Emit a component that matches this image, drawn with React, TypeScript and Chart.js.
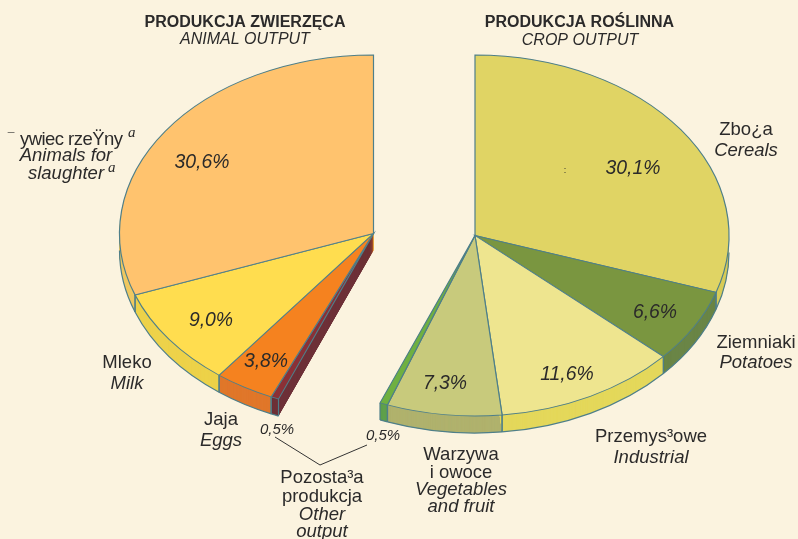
import React, { useEffect, useRef } from "react";
import { Chart, registerables } from "chart.js";

Chart.register(...registerables);

// Slices in clockwise order from 12 o'clock: crop output first, then animal output.
const sliceNames = [
  "Zboża", "Ziemniaki", "Przemysłowe", "Warzywa i owoce", "Pozostała (roślinna)",
  "Pozostała (zwierzęca)", "Jaja", "Mleko", "Żywiec rzeźny",
];
const sliceValues = [30.1, 6.6, 11.6, 7.3, 0.5, 0.5, 3.8, 9.0, 30.6];
const topColors = [
  "#E0D464", "#7A9640", "#EEE58F", "#C8CA7C", "#6FB040",
  "#8B3036", "#F5821F", "#FFDD4F", "#FFC36E",
];
const wallColors = [
  "#D8CC58", "#6A8546", "#E4D85C", "#B0B26E", "#5FA04C",
  "#6E3138", "#E0782C", "#EDD24A", "#EFC862",
];
const cropSliceCount = 5;
// Paint order of the side walls: from the sides toward the lowest point of each half.
const wallPaintOrder = [0, 1, 4, 3, 2, 8, 7, 6, 5];

const BG = "#FBF3DF";
const EDGE = "#4E7F8A";
const INK = "#2B2A2A";
const FONT = '"Liberation Sans", Arial, sans-serif';

const PIES = {
  crop: { x: 475, y: 235.5, ry: 180.5 },
  animal: { x: 373.5, y: 233.5, ry: 178.5 },
};
const RADIUS = 254;
const DEPTH = 17;
const SWEEP_STEP = 0.2;

// Where each slice's percentage sits (x centre, baseline), in slice order.
const percentAnchors = [
  [633, 174], [655, 318], [567, 380], [445, 389], null,
  null, [266, 367], [211, 326], [202, 168],
];

type Txt = [string, number, number, string?, number?, string?, string?];
// text, x, baseline, style, size, align, letter spacing
const labels: Txt[] = [
  ["PRODUKCJA ZWIERZĘCA", 245, 27, "bold", 16],
  ["ANIMAL OUTPUT", 245, 44, "italic", 16],
  ["PRODUKCJA ROŚLINNA", 579.5, 27, "bold", 16],
  ["CROP OUTPUT", 580, 45, "italic", 16],
  ["¯", 11, 141.5, "", 12],
  ["ywiec rzeŸny", 20, 145, "", 18.5, "left", "-0.55px"],
  ["Animals for", 66, 161, "italic", 18.5],
  ["slaughter", 66, 179, "italic", 18.5],
  ["Zbo¿a", 746, 135, "", 18.5],
  ["Cereals", 746, 156, "italic", 18.5],
  ["Ziemniaki", 756, 348, "", 18.5],
  ["Potatoes", 756, 368, "italic", 18.5],
  ["Przemys³owe", 651, 442, "", 18.5],
  ["Industrial", 651, 463, "italic", 18.5],
  ["Warzywa", 461, 460, "", 18.5],
  ["i owoce", 461, 478, "", 18.5],
  ["Vegetables", 461, 495, "italic", 18.5],
  ["and fruit", 461, 512, "italic", 18.5],
  ["Pozosta³a", 322, 483, "", 18.5],
  ["produkcja", 322, 502, "", 18.5],
  ["Other", 322, 520, "italic", 18.5],
  ["output", 322, 537, "italic", 18.5],
  ["Jaja", 221, 425, "", 18.5],
  ["Eggs", 221, 446, "italic", 18.5],
  ["Mleko", 127, 368, "", 18.5],
  ["Milk", 127, 389, "italic", 18.5],
  ["0,5%", 277, 434, "italic", 15],
  ["0,5%", 383, 440, "italic", 15],
  [":", 565, 173, "", 9],
];
const superscripts: [string, number, number][] = [
  ["a", 128, 137],
  ["a", 108, 172],
];
const leader: [number, number][] = [[275, 437], [320, 465], [367, 445]];

const pieOf = (i: number) => (i < cropSliceCount ? PIES.crop : PIES.animal);

const slicePieces = {
  id: "slicePieces",
  beforeDatasetDraw(chart: any) {
    const { ctx } = chart;
    const arcs = chart.getDatasetMeta(0).data;
    const place = (arc: any, i: number, dy: number) => {
      const p = pieOf(i);
      ctx.translate(p.x, p.y + dy);
      ctx.scale(1, p.ry / RADIUS);
      ctx.translate(-arc.x, -arc.y);
    };
    // side walls: each slice swept downward
    wallPaintOrder.forEach((i: number) => {
      const arc = arcs[i];
      const keep = arc.options;
      arc.options = { ...keep, backgroundColor: wallColors[i], borderWidth: 0 };
      for (let d = DEPTH; d >= SWEEP_STEP; d -= SWEEP_STEP) {
        ctx.save();
        place(arc, i, d);
        arc.draw(ctx);
        ctx.restore();
      }
      arc.options = keep;
    });
    // lower rim and vertical seams
    ctx.strokeStyle = EDGE;
    ctx.lineWidth = 1.2;
    arcs.forEach((arc: any, i: number) => {
      const p = pieOf(i);
      const a0 = Math.max(arc.startAngle, 0);
      const a1 = Math.min(arc.endAngle, Math.PI);
      if (a1 <= a0) return;
      ctx.beginPath();
      ctx.ellipse(p.x, p.y + DEPTH, RADIUS, p.ry, 0, a0, a1);
      ctx.stroke();
      [arc.startAngle, arc.endAngle].forEach((a: number) => {
        if (Math.sin(a) <= 0) return;
        const x = p.x + RADIUS * Math.cos(a);
        const y = p.y + p.ry * Math.sin(a);
        ctx.beginPath();
        ctx.moveTo(x, y);
        ctx.lineTo(x, y + DEPTH);
        ctx.stroke();
      });
    });
    // top faces
    arcs.forEach((arc: any, i: number) => {
      ctx.save();
      place(arc, i, 0);
      arc.draw(ctx);
      ctx.restore();
    });
    return false;
  },
  afterDraw(chart: any) {
    const { ctx } = chart;
    ctx.save();
    ctx.fillStyle = INK;
    ctx.textBaseline = "alphabetic";
    labels.forEach(([t, x, y, style = "", size = 18.5, align = "center", spacing = "0px"]) => {
      ctx.font = `${style} ${size}px ${FONT}`;
      ctx.textAlign = align;
      ctx.letterSpacing = spacing;
      ctx.fillText(t, x, y);
    });
    ctx.letterSpacing = "0px";
    ctx.font = `italic 19.4px ${FONT}`;
    ctx.textAlign = "center";
    sliceValues.forEach((v, i) => {
      const at = percentAnchors[i];
      if (!at) return;
      ctx.fillText(`${v.toFixed(1).replace(".", ",")}%`, at[0], at[1]);
    });
    ctx.font = `italic 15px "Liberation Serif", serif`;
    ctx.textAlign = "left";
    superscripts.forEach(([t, x, y]) => ctx.fillText(t, x, y));
    ctx.strokeStyle = "#333";
    ctx.lineWidth = 1;
    ctx.beginPath();
    leader.forEach(([x, y], i) => (i ? ctx.lineTo(x, y) : ctx.moveTo(x, y)));
    ctx.stroke();
    ctx.restore();
  },
};

export default function App() {
  const ref = useRef<HTMLCanvasElement>(null);
  useEffect(() => {
    const chart = new Chart(ref.current!, {
      type: "pie",
      data: {
        labels: sliceNames,
        datasets: [{
          data: sliceValues,
          backgroundColor: topColors,
          borderColor: EDGE,
          borderWidth: 1.2,
          borderJoinStyle: "miter",
          radius: RADIUS,
        }],
      },
      options: {
        responsive: false,
        animation: false,
        layout: { padding: 0 },
        plugins: { legend: { display: false }, tooltip: { enabled: false } },
      },
      plugins: [slicePieces],
    } as any);
    return () => chart.destroy();
  }, []);
  return (
    <div style={{ position: "absolute", left: 0, top: 0, width: 798, height: 539, background: BG, overflow: "hidden" }}>
      <canvas ref={ref} width={798} height={539} style={{ display: "block" }} />
    </div>
  );
}
